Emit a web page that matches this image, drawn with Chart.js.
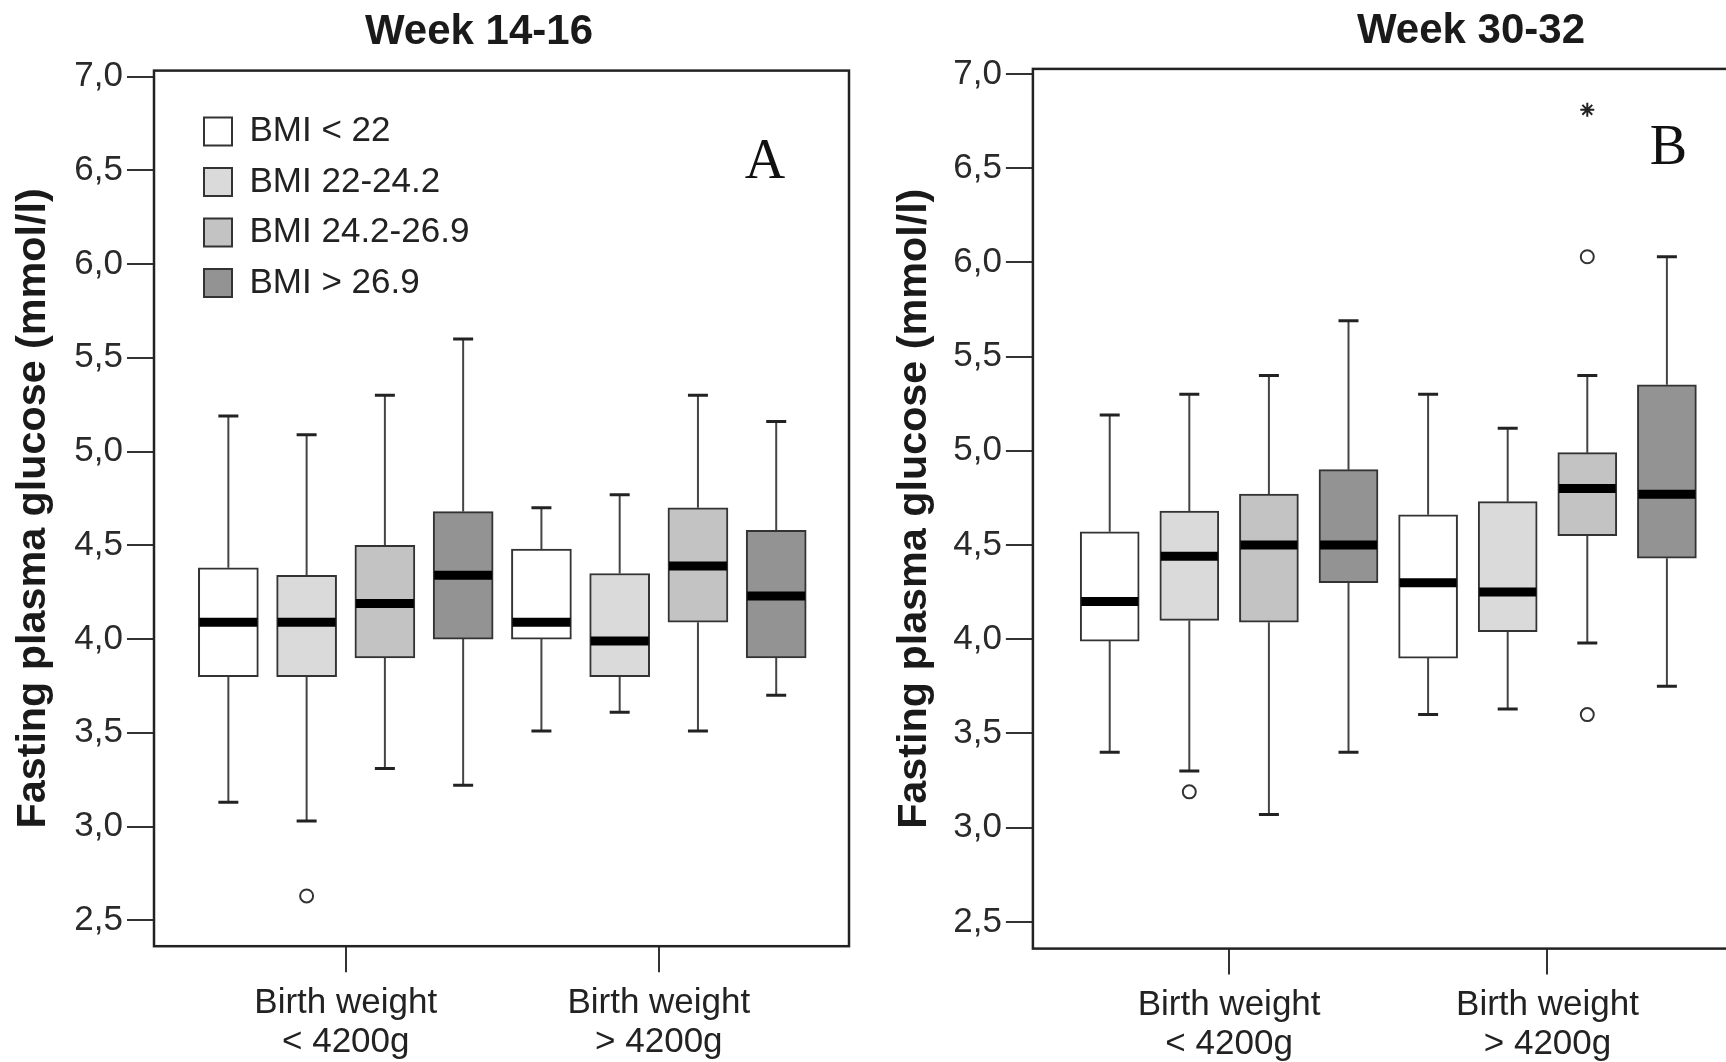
<!DOCTYPE html>
<html><head><meta charset="utf-8">
<script src="https://cdn.jsdelivr.net/npm/chart.js@4.4.1/dist/chart.umd.min.js"></script>
<style>
html,body{margin:0;padding:0;background:#fff;width:1726px;height:1062px;overflow:hidden;position:relative;}
#c1{position:absolute;left:0;top:0;}
#c2{position:absolute;left:870px;top:0;}
</style></head>
<body>
<canvas id="c1" width="958" height="1062"></canvas>
<canvas id="c2" width="1202" height="1062"></canvas>
<script>
// ---------- data ----------
const categories = [['Birth weight', '< 4200g'], ['Birth weight', '> 4200g']];
const seriesNames = ['BMI < 22', 'BMI 22-24.2', 'BMI 24.2-26.9', 'BMI > 26.9'];
const yTicks = [2.5, 3.0, 3.5, 4.0, 4.5, 5.0, 5.5, 6.0, 6.5, 7.0];
const panelTitles = ['Week 14-16', 'Week 30-32'];
const yTitle = 'Fasting plasma glucose (mmol/l)';

// five-number summaries per category: [low whisker, Q1, median, Q3, high whisker]
const w14_bmiLt22   = [[3.13, 3.80, 4.09, 4.38, 5.19], [3.51, 4.00, 4.09, 4.48, 4.70]];
const w14_bmi22_242 = [[3.03, 3.80, 4.09, 4.34, 5.09], [3.61, 3.80, 3.99, 4.35, 4.77]];
const w14_bmi242_269= [[3.31, 3.90, 4.19, 4.50, 5.30], [3.51, 4.09, 4.39, 4.70, 5.30]];
const w14_bmiGt269  = [[3.22, 4.00, 4.34, 4.68, 5.60], [3.70, 3.90, 4.23, 4.58, 5.16]];
// outliers: [seriesIndex, categoryIndex, value]
const w14_circles = [[1, 0, 2.63]];
const w14_stars = [];

const w30_bmiLt22   = [[3.40, 3.99, 4.20, 4.57, 5.19], [3.60, 3.90, 4.30, 4.66, 5.30]];
const w30_bmi22_242 = [[3.30, 4.10, 4.44, 4.68, 5.30], [3.63, 4.04, 4.25, 4.73, 5.12]];
const w30_bmi242_269= [[3.07, 4.09, 4.50, 4.77, 5.40], [3.98, 4.55, 4.80, 4.99, 5.40]];
const w30_bmiGt269  = [[3.40, 4.30, 4.50, 4.90, 5.69], [3.75, 4.43, 4.77, 5.35, 6.03]];
const w30_circles = [[1, 0, 3.19], [2, 1, 6.03], [2, 1, 3.60]];
const w30_stars = [[2, 1, 6.81]];

// ---------- styles ----------
const fills = ['#ffffff', '#dadada', '#c3c3c3', '#939393'];
Chart.defaults.font.family = '"Liberation Sans", Arial, Helvetica, sans-serif';
Chart.defaults.color = '#222';

const nS = seriesNames.length;
const pos = (c, s) => c * nS + s + 1;
const clusterCenter = c => (pos(c, 0) + pos(c, nS - 1)) / 2;

function makeDatasets(summaries, circles, stars, barPx) {
  const ds = [];
  summaries.forEach((rows, s) => {
    ds.push({
      type: 'bar', label: seriesNames[s], order: 3,
      data: rows.map((r, c) => ({x: pos(c, s), y: [r[1], r[3]]})),
      backgroundColor: fills[s], borderColor: '#333', borderWidth: 2,
      borderSkipped: false, barThickness: barPx, grouped: false
    });
  });
  const whisk = [], caps = [], meds = [];
  summaries.forEach((rows, s) => rows.forEach((r, c) => {
    const x = pos(c, s);
    whisk.push({x, y: r[0]}, {x, y: r[1]}, {x, y: null}, {x, y: r[3]}, {x, y: r[4]}, {x, y: null});
    caps.push({x, y: r[0]}, {x, y: r[4]});
    meds.push({x, y: r[2]});
  }));
  ds.push({type: 'line', label: 'whiskers', order: 4, data: whisk, borderColor: '#444',
    borderWidth: 2, pointRadius: 0, spanGaps: false, fill: false, tension: 0});
  ds.push({type: 'scatter', label: 'caps', order: 2, data: caps, pointStyle: 'line',
    pointRadius: 10, pointBorderWidth: 3, pointBorderColor: '#222', pointBackgroundColor: '#222'});
  ds.push({type: 'scatter', label: 'outliers', order: 1,
    data: circles.map(o => ({x: pos(o[1], o[0]), y: o[2]})), pointStyle: 'circle',
    pointRadius: 6.5, pointBorderWidth: 2, pointBorderColor: '#333', pointBackgroundColor: '#fff'});
  ds.push({type: 'scatter', label: 'extremes', order: 1,
    data: stars.map(o => ({x: pos(o[1], o[0]), y: o[2]})), pointStyle: 'star',
    pointRadius: 7, pointBorderWidth: 2, pointBorderColor: '#222', pointBackgroundColor: '#222'});
  ds.push({type: 'scatter', label: 'median', order: 0, data: meds, pointStyle: 'line',
    pointRadius: barPx / 2 - 1, pointBorderWidth: 9, pointBorderColor: '#000', pointBackgroundColor: '#000'});
  return ds;
}

const framePlugin = {
  id: 'frame',
  afterLayout(chart, args, opts) {
    if (opts.legendShift && chart.legend) {
      const a = chart.chartArea;
      chart.legend.left = a.left + opts.legendShift[0];
      chart.legend.top = a.top + opts.legendShift[1];
      chart.legend.bottom = a.bottom;
      chart.legend.right = a.right;
    }
  },
  afterDatasetsDraw(chart, args, opts) {
    const {ctx, chartArea: a} = chart;
    ctx.save();
    ctx.strokeStyle = '#222';
    ctx.lineWidth = 2.5;
    ctx.strokeRect(a.left, a.top, a.right - a.left, a.bottom - a.top);
    if (opts.letter) {
      ctx.font = '56px "Liberation Serif", "Times New Roman", serif';
      ctx.fillStyle = '#111';
      ctx.textAlign = 'center';
      ctx.textBaseline = 'middle';
      ctx.fillText(opts.letter, a.right - opts.letterDx, a.top + opts.letterDy);
    }
    ctx.restore();
  }
};

function makeChart(id, cfg) {
  return new Chart(document.getElementById(id), {
    type: 'bar',
    data: {datasets: makeDatasets(cfg.summaries, cfg.circles, cfg.stars, cfg.barPx)},
    plugins: [framePlugin],
    options: {
      responsive: false, animation: false, events: [], devicePixelRatio: 1,
      layout: {padding: 0},
      plugins: {
        tooltip: {enabled: false},
        title: {display: true, text: cfg.title, color: '#1a1a1a',
          font: {size: 42, weight: 'bold', lineHeight: 1.2},
          padding: {top: cfg.titleTop, bottom: cfg.titleBottom}},
        legend: cfg.legend ? {
          display: true, position: 'chartArea', align: 'start',
          labels: {boxWidth: 28, boxHeight: 28, padding: 15.5, color: '#222',
            font: {size: 35}, filter: item => item.datasetIndex < nS}
        } : {display: false},
        frame: {letter: cfg.letter, letterDx: cfg.letterDx, letterDy: cfg.letterDy,
          legendShift: cfg.legend ? [34.5, 28] : null}
      },
      scales: {
        x: {
          type: 'linear', min: cfg.xMin, max: cfg.xMax, offset: false,
          afterBuildTicks: s => { s.ticks = categories.map((c, i) => ({value: clusterCenter(i)})); },
          afterFit: s => { s.height = cfg.xAxisHeight; },
          ticks: {font: {size: 35, lineHeight: 1.114}, color: '#222', padding: 11.4,
            maxRotation: 0, autoSkip: false, callback: (v, i) => categories[i]},
          grid: {display: true, drawOnChartArea: false, drawTicks: true, tickLength: 26,
            tickWidth: 2, tickColor: '#333', color: '#333', lineWidth: 2, offset: false},
          border: {display: false}
        },
        y: {
          type: 'linear', min: cfg.yMin, max: cfg.yMax,
          afterBuildTicks: s => { s.ticks = yTicks.map(v => ({value: v})); },
          afterFit: s => { s.width = cfg.yAxisWidth; },
          ticks: {font: {size: 35}, color: '#2a2a2a', padding: 4,
            callback: v => v.toFixed(1).replace('.', ',')},
          grid: {display: true, drawOnChartArea: false, drawTicks: true, tickLength: 27,
            tickWidth: 2, tickColor: '#333', color: '#333', lineWidth: 2},
          border: {display: false},
          title: {display: true, text: yTitle, color: '#1a1a1a',
            font: {size: 41.3, weight: 'bold', lineHeight: 1},
            padding: {top: cfg.yTitlePad, bottom: 0}}
        },
        // empty spacer on the right so the panel title centres over the full panel width
        gap: {
          type: 'linear', position: 'right', display: true,
          afterFit: s => { s.width = cfg.rightGap; },
          ticks: {display: false}, grid: {display: false}, border: {display: false}
        }
      }
    }
  });
}

makeChart('c1', {
  summaries: [w14_bmiLt22, w14_bmi22_242, w14_bmi242_269, w14_bmiGt269],
  circles: w14_circles, stars: w14_stars, barPx: 60,
  title: panelTitles[0], titleTop: 7.1, titleBottom: 13.1,
  rightGap: 109, xMin: 0.05, xMax: 8.93, xAxisHeight: 115.8,
  yMin: 2.362, yMax: 7.032, yAxisWidth: 154, yTitlePad: 13.4,
  legend: true, letter: 'A', letterDx: 84, letterDy: 93
});
makeChart('c2', {
  summaries: [w30_bmiLt22, w30_bmi22_242, w30_bmi242_269, w30_bmiGt269],
  circles: w30_circles, stars: w30_stars, barPx: 59,
  title: panelTitles[1], titleTop: 6.5, titleBottom: 12,
  rightGap: 328.3, xMin: 0.035, xMax: 8.965, xAxisHeight: 113.4,
  yMin: 2.358, yMax: 7.027, yAxisWidth: 162.9, yTitlePad: 24,
  legend: false, letter: 'B', letterDx: 75.2, letterDy: 80.2
});
</script>
</body></html>
